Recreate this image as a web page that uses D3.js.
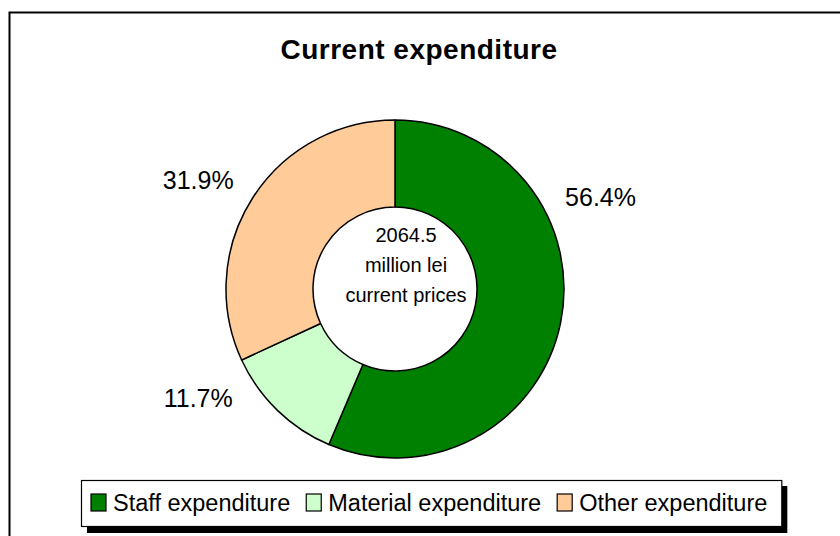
<!DOCTYPE html>
<html>
<head>
<meta charset="utf-8">
<script src="https://cdn.jsdelivr.net/npm/d3@7"></script>
<style>
  body { margin: 0; background: #fff; }
  svg { display: block; font-family: Arial, "Liberation Sans", sans-serif; }
</style>
</head>
<body>
<svg width="840" height="536"></svg>
<script>
// data
const categories = ["Staff expenditure", "Material expenditure", "Other expenditure"];
const shares = [56.4, 11.7, 31.9];
const centerLines = ["2064.5", "million lei", "current prices"];
const title = "Current expenditure";

const colors = ["#008000", "#ccffcc", "#ffcc99"];

const svg = d3.select("svg");
const width = +svg.attr("width");
const height = +svg.attr("height");

// chart frame (runs off the right and bottom edge)
svg.append("rect")
  .attr("x", 9.5).attr("y", 12.5)
  .attr("width", width).attr("height", height)
  .attr("fill", "#fff")
  .attr("stroke", "#000").attr("stroke-width", 2);

svg.append("text")
  .attr("x", 419).attr("y", 59)
  .attr("text-anchor", "middle")
  .style("font-size", "28px").style("font-weight", "bold")
  .style("letter-spacing", "0.5px")
  .text(title);

// donut
const cx = 395, cy = 289;
const outerR = 169, innerR = 82;

const pie = d3.pie().sort(null).value(d => d);
const arcs = pie(shares);
const arc = d3.arc().innerRadius(innerR).outerRadius(outerR);

const g = svg.append("g").attr("transform", `translate(${cx},${cy})`);

g.selectAll("path")
  .data(arcs)
  .enter().append("path")
    .attr("d", arc)
    .attr("fill", (d, i) => colors[i])
    .attr("stroke", "#000")
    .attr("stroke-width", 1.5)
    .attr("stroke-linejoin", "round");

// labels sit where Excel's best-fit put them (angle in degrees, clockwise from 12 o'clock)
const labelAngle = [66, 241, 299];
const labelR = 225;
g.selectAll("text.pct")
  .data(arcs)
  .enter().append("text")
    .attr("class", "pct")
    .attr("x", (d, i) => labelR * Math.sin(labelAngle[i] * Math.PI / 180))
    .attr("y", (d, i) => -labelR * Math.cos(labelAngle[i] * Math.PI / 180))
    .attr("dy", "0.36em")
    .attr("text-anchor", "middle")
    .style("font-size", "25px")
    .text(d => d3.format(".1f")(d.data) + "%");

// text in the hole
g.append("text")
  .attr("text-anchor", "middle")
  .style("font-size", "20px")
  .selectAll("tspan")
  .data(centerLines)
  .enter().append("tspan")
    .attr("x", 11)
    .attr("y", (d, i) => -47 + i * 30)
    .text(d => d);

// legend
const legend = svg.append("g").attr("transform", "translate(81,480)");
const legendH = 46;
const shadow = legend.append("rect").attr("fill", "#000");
const box = legend.append("rect")
  .attr("fill", "#fff").attr("stroke", "#000").attr("stroke-width", 1.2);

let xPos = 10;
categories.forEach((name, i) => {
  legend.append("rect")
    .attr("x", xPos).attr("y", 14)
    .attr("width", 15).attr("height", 17)
    .attr("fill", colors[i])
    .attr("stroke", "#000").attr("stroke-width", 1.2);
  const t = legend.append("text")
    .attr("x", xPos + 22).attr("y", 31)
    .style("font-size", "23.5px")
    .text(name);
  xPos += 22 + t.node().getComputedTextLength() + 16;
});
const legendW = xPos - 16 + 14;
box.attr("x", 0.5).attr("y", 0.5).attr("width", legendW).attr("height", legendH);
shadow.attr("x", 6).attr("y", 6).attr("width", legendW).attr("height", legendH + 1);
</script>
</body>
</html>
